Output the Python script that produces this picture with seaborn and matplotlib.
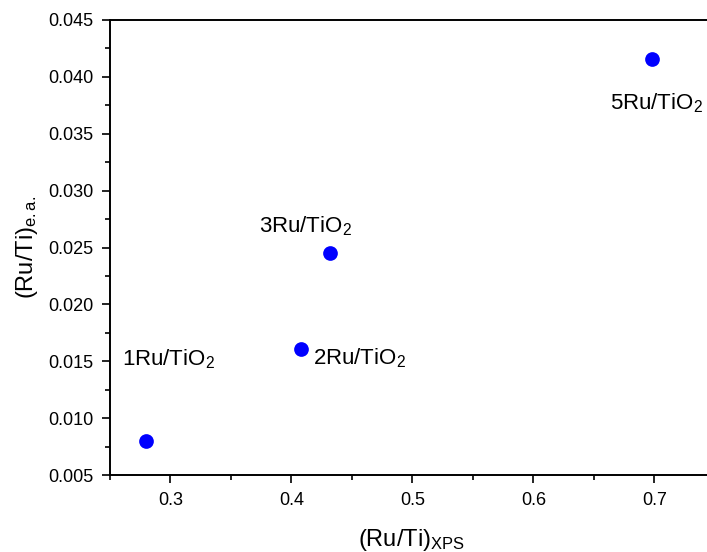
import matplotlib
matplotlib.use("Agg")
import matplotlib.pyplot as plt
import seaborn as sns
import pandas as pd
from matplotlib.ticker import MultipleLocator

# Data
samples = ["1Ru/TiO$_2$", "2Ru/TiO$_2$", "3Ru/TiO$_2$", "5Ru/TiO$_2$"]
ru_ti_xps = [0.280, 0.408, 0.432, 0.698]
ru_ti_ea = [0.0080, 0.0161, 0.0245, 0.0416]

df = pd.DataFrame({"xps": ru_ti_xps, "ea": ru_ti_ea, "sample": samples})

sns.set_style("ticks")
plt.rcParams["font.family"] = ["Liberation Sans", "DejaVu Sans"]
plt.rcParams["mathtext.fontset"] = "custom"
plt.rcParams["mathtext.rm"] = "Liberation Sans"
plt.rcParams["mathtext.it"] = "Liberation Sans:italic"
plt.rcParams["mathtext.bf"] = "Liberation Sans:bold"
plt.rcParams["text.color"] = "black"
plt.rcParams["axes.labelcolor"] = "black"
plt.rcParams["xtick.color"] = "black"
plt.rcParams["ytick.color"] = "black"

fig = plt.figure(figsize=(7.07, 5.52), dpi=100)
ax = fig.add_axes([110 / 707, 1 - 475 / 552, 1 - 110 / 707, (475 - 20) / 552])

sns.scatterplot(data=df, x="xps", y="ea", ax=ax, color="#0000ff",
                s=112, edgecolor="#0000ff", linewidth=0, legend=False)

# label offsets (points) and alignment
label_style = [
    dict(xytext=(15.8, 54.7), ha="center"),
    dict(xytext=(8.9, -11.0), ha="left"),
    dict(xytext=(-17.7, 15.1), ha="center"),
    dict(xytext=(3.6, -36.7), ha="center"),
]
for xv, yv, lab, st in zip(ru_ti_xps, ru_ti_ea, samples, label_style):
    ax.annotate(lab, (xv, yv), xytext=st["xytext"], textcoords="offset points",
                ha=st["ha"], va="baseline", fontsize=16, color="black")

ax.set_xlim(0.25, 0.7435)
ax.set_ylim(0.005, 0.045)
ax.xaxis.set_major_locator(MultipleLocator(0.1))
ax.xaxis.set_minor_locator(MultipleLocator(0.05))
ax.yaxis.set_major_locator(MultipleLocator(0.005))
ax.yaxis.set_minor_locator(MultipleLocator(0.0025))
ax.yaxis.set_major_formatter(matplotlib.ticker.FormatStrFormatter("%.3f"))
ax.xaxis.set_major_formatter(matplotlib.ticker.FormatStrFormatter("%.1f"))

ax.tick_params(axis="both", which="major", direction="out", length=6, width=1.2,
               labelsize=13, pad=6, color="black", labelcolor="black")
ax.tick_params(axis="both", which="minor", direction="out", length=3.5, width=1.2,
               color="black")
ax.tick_params(top=False, right=False, which="both")

for side in ["left", "bottom", "top"]:
    ax.spines[side].set_visible(True)
    ax.spines[side].set_linewidth(1.4)
    ax.spines[side].set_color("black")
ax.spines["right"].set_visible(False)

ax.set_xlabel(r"(Ru/Ti)$_{\mathrm{XPS}}$", fontsize=17, labelpad=10, color="black")
ax.set_ylabel(r"(Ru/Ti)$_{\mathrm{e.a.}}$", fontsize=17, labelpad=6, color="black")
ax.xaxis.set_label_coords((411 - 110) / (707 - 110), -0.115)

fig.savefig("out.png", dpi=100)
